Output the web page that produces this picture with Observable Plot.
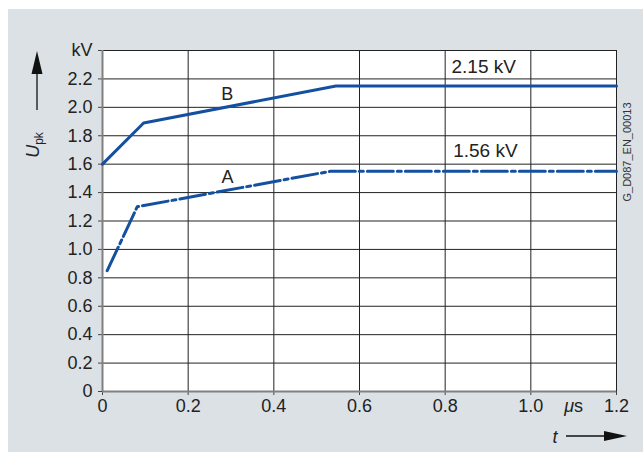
<!DOCTYPE html>
<html><head><meta charset="utf-8">
<script src="https://cdn.jsdelivr.net/npm/d3@7"></script>
<script src="https://cdn.jsdelivr.net/npm/@observablehq/plot@0.6"></script>
<style>
body{margin:0;background:#fff;}
#wrap{position:relative;width:643px;height:453px;overflow:hidden;}
#panel{position:absolute;left:8px;top:9px;width:635px;height:443px;background:#dce1e5;}
#chart{position:absolute;left:0;top:0;}
</style></head><body>
<div id="wrap"><div id="panel"></div><div id="chart"></div></div>
<script>
// ---- data ----
const curveB_t = [0, 0.096, 0.545, 1.2];
const curveB_u = [1.60, 1.89, 2.15, 2.15];
const curveA_t = [0.011, 0.081, 0.532, 1.2];
const curveA_u = [0.85, 1.30, 1.55, 1.55];
const curveNames = ["B", "A"];
const curveNameT = [0.291, 0.292];
const curveNameU = [2.095, 1.508];
const valueLabels = ["2.15 kV", "1.56 kV"];
const valueLabelT = [0.89, 0.894];
const valueLabelU = [2.287, 1.696];
const xTicks = [0, 0.2, 0.4, 0.6, 0.8, 1.0, 1.2];
const xTickLabels = ["0", "0.2", "0.4", "0.6", "0.8", "1.0", "1.2"];
const yTicks = [0, 0.2, 0.4, 0.6, 0.8, 1.0, 1.2, 1.4, 1.6, 1.8, 2.0, 2.2, 2.4];
const yTickLabels = ["0", "0.2", "0.4", "0.6", "0.8", "1.0", "1.2", "1.4", "1.6", "1.8", "2.0", "2.2", "kV"];
const xUnit = "μs";
const xUnitT = 1.1;
const yTitle = ["U", "pk"];
const xTitle = "t";
const docId = "G_D087_EN_00013";

const dataB = curveB_t.map((t, i) => ({t, u: curveB_u[i]}));
const dataA = curveA_t.map((t, i) => ({t, u: curveA_u[i]}));
const names = curveNames.map((n, i) => ({n, t: curveNameT[i], u: curveNameU[i]}));
const vlabels = valueLabels.map((n, i) => ({n, t: valueLabelT[i], u: valueLabelU[i]}));

const lineColor = "#1450a0";
const font = "'Liberation Sans', Arial, Helvetica, sans-serif";

const chart = Plot.plot({
  width: 643, height: 453,
  marginLeft: 102, marginRight: 27, marginTop: 50, marginBottom: 62,
  style: {background: "transparent", fontFamily: font, fontSize: "18px", color: "#222", overflow: "visible"},
  x: {domain: [0, 1.2]},
  y: {domain: [0, 2.4]},
  marks: [
    Plot.frame({fill: "#fff", stroke: "none"}),
    Plot.gridX(xTicks, {stroke: "#222", strokeOpacity: 1, strokeWidth: 1}),
    Plot.gridY(yTicks, {stroke: "#222", strokeOpacity: 1, strokeWidth: 1}),
    Plot.axisY({ticks: yTicks, tickSize: 4, tickPadding: 6, label: null, stroke: "#444",
      tickFormat: d => yTickLabels[Math.round(d / 0.2)], fontSize: 18}),
    Plot.axisX({ticks: xTicks, tickSize: 4, tickPadding: 4, label: null, stroke: "#444",
      tickFormat: d => xTickLabels[Math.round(d / 0.2)], fontSize: 18}),
    Plot.ruleX([0], {stroke: "#808080", strokeWidth: 2}),
    Plot.ruleY([0], {stroke: "#808080", strokeWidth: 2}),
    Plot.line(dataB, {x: "t", y: "u", stroke: lineColor, strokeWidth: 3}),
    Plot.line(dataA, {x: "t", y: "u", stroke: lineColor, strokeWidth: 3, strokeDasharray: "26,4,4,4"}),
    Plot.text(names, {x: "t", y: "u", text: "n", fontSize: 18, fill: "#222", lineAnchor: "middle"}),
    Plot.text(vlabels, {x: "t", y: "u", text: "n", fontSize: 19, fill: "#222", lineAnchor: "middle"}),
    Plot.text([xUnit], {x: () => xUnitT, frameAnchor: "bottom", dy: 15, lineAnchor: "middle", fontSize: 18, fill: "#222", className: "unitlabel"})
  ]
});
document.getElementById("chart").appendChild(chart);

const svg = d3.select(chart);
// italic mu
const ut = svg.select(".unitlabel text");
if (!ut.empty()) {
  ut.text(null);
  ut.append("tspan").attr("font-style", "italic").text(xUnit[0]);
  ut.append("tspan").text(xUnit.slice(1));
}
const deco = svg.append("g").attr("fill", "#111");
// y arrow
deco.append("line").attr("x1", 37).attr("x2", 37).attr("y1", 70).attr("y2", 110).attr("stroke", "#111").attr("stroke-width", 1.3);
deco.append("path").attr("d", "M37,51 L42.5,74 L31.5,74 Z");
// y title
const yt = deco.append("text").attr("transform", "translate(39,145) rotate(-90)")
  .attr("font-family", font).attr("font-size", 18).attr("fill", "#222");
yt.append("tspan").attr("font-style", "italic").text(yTitle[0]);
yt.append("tspan").attr("font-size", 12).attr("dy", 4).text(yTitle[1]);
// x title and arrow
deco.append("text").attr("x", 555).attr("y", 443).attr("text-anchor", "middle")
  .attr("font-family", font).attr("font-size", 18).attr("font-style", "italic").attr("fill", "#222").text(xTitle);
deco.append("line").attr("x1", 566).attr("x2", 606).attr("y1", 436).attr("y2", 436).attr("stroke", "#111").attr("stroke-width", 1.3);
deco.append("path").attr("d", "M627,436 L604,431 L604,441 Z");
// document id
deco.append("text").attr("transform", "translate(630.5,152) rotate(-90)")
  .attr("font-family", font).attr("font-size", 11).attr("fill", "#333").text(docId);
</script>
</body></html>
